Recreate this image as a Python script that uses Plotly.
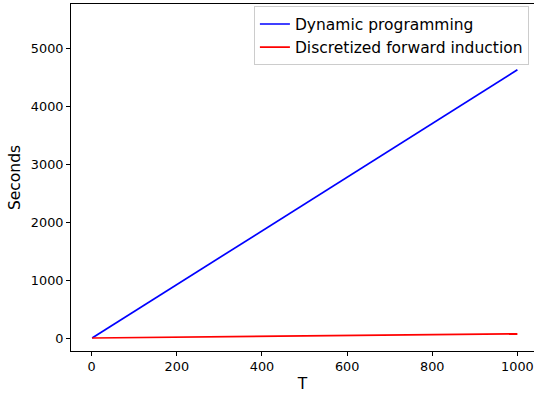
import plotly.graph_objects as go

T = [1, 200, 400, 600, 800, 1000]
dynamic_programming = [0, 925, 1850, 2780, 3700, 4630]
forward_induction = [0, 14, 28, 43, 58, 72]

x_ticks = [0, 200, 400, 600, 800, 1000]
y_ticks = [0, 1000, 2000, 3000, 4000, 5000]

fig = go.Figure()
fig.add_trace(go.Scatter(x=T, y=dynamic_programming, mode="lines",
                         name="Dynamic programming",
                         line=dict(color="#0000ff", width=1.7)))
fig.add_trace(go.Scatter(x=T, y=forward_induction, mode="lines",
                         name="Discretized forward induction",
                         line=dict(color="#ff0000", width=1.7)))

font = "DejaVu Sans, sans-serif"
fig.update_layout(
    width=534, height=396,
    margin=dict(l=71, r=0, t=4, b=45),
    paper_bgcolor="white", plot_bgcolor="white",
    font=dict(family=font, size=12.8, color="black"),
    showlegend=True,
    legend=dict(x=0.989, y=0.993, xanchor="right", yanchor="top",
                bordercolor="#cccccc", borderwidth=1, bgcolor="rgba(255,255,255,0.8)",
                font=dict(size=15.5, family=font), itemwidth=30,
                tracegroupgap=0),
)
fig.update_xaxes(
    range=[-48.6, 1039], tickvals=x_ticks, ticktext=[str(v) for v in x_ticks],
    showgrid=False, zeroline=False, showline=True, linecolor="black", linewidth=1,
    mirror=True, ticks="outside", ticklen=4, tickcolor="black", tickwidth=1,
    title=dict(text="T", font=dict(size=15.5, family=font), standoff=4),
)
fig.update_yaxes(
    range=[-224, 5765], tickvals=y_ticks, ticktext=[str(v) for v in y_ticks],
    showgrid=False, zeroline=False, showline=True, linecolor="black", linewidth=1,
    mirror=False, ticks="outside", ticklen=4, tickcolor="black", tickwidth=1,
    title=dict(text="Seconds", font=dict(size=15.5, family=font), standoff=6),
)

fig.write_html("out.html")
